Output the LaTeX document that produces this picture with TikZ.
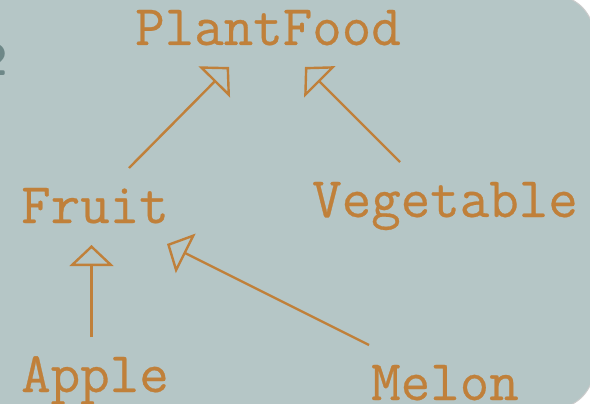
\documentclass[tikz,border=0pt]{standalone}
\usepackage{fontspec}
\newfontfamily\lmtt[FakeBold=0.5]{Latin Modern Mono}
\usetikzlibrary{arrows.meta}
\definecolor{bg}{RGB}{181,198,198}
\definecolor{ink}{RGB}{192,128,58}
\definecolor{frag}{RGB}{40,75,75}
\tikzset{
  lbl/.style={anchor=base west, inner sep=0pt, text=ink, font=\lmtt\fontsize{57.3}{59}\selectfont},
  isa/.style={draw=ink, line width=2.4pt, -{Triangle[open, length=21pt, width=44pt, line width=2.4pt]}}
}
\begin{document}
\begin{tikzpicture}[x=1pt, y=-1pt]
\useasboundingbox (0,0) rectangle (590,404);
\fill[white] (0,0) rectangle (590,404);
\begin{scope}
\clip (0,0) rectangle (590,404);
\fill[bg, draw=gray!40, line width=1pt, rounded corners=40pt] (-60,-4.7) rectangle (593.7,408.7);
\node[anchor=east, inner sep=0pt, text=frag, opacity=0.5, font=\sffamily\bfseries\fontsize{44}{46}\selectfont] (frag2) at (8,60) {2};
\end{scope}
\node[lbl] (plant) at (135,45) {PlantFood};
\node[lbl] (fruit) at (21,223) {Fruit};
\node[lbl] (veg) at (312,217) {Vegetable};
\node[lbl] (apple) at (21,392) {Apple};
\node[lbl] (melon) at (371,400) {Melon};
\draw[isa] ([shift={(108,-55)}]fruit.base west) -- ([shift={(94,22)}]plant.base west);
\draw[isa] ([shift={(88,-55)}]veg.base west) -- ([shift={(170,22)}]plant.base west);
\draw[isa] ([shift={(70.5,-55)}]apple.base west) -- ([shift={(70.5,22)}]fruit.base west);
\draw[isa] ([shift={(-2,-55)}]melon.base west) -- ([shift={(146,21)}]fruit.base west);
\end{tikzpicture}
\end{document}
